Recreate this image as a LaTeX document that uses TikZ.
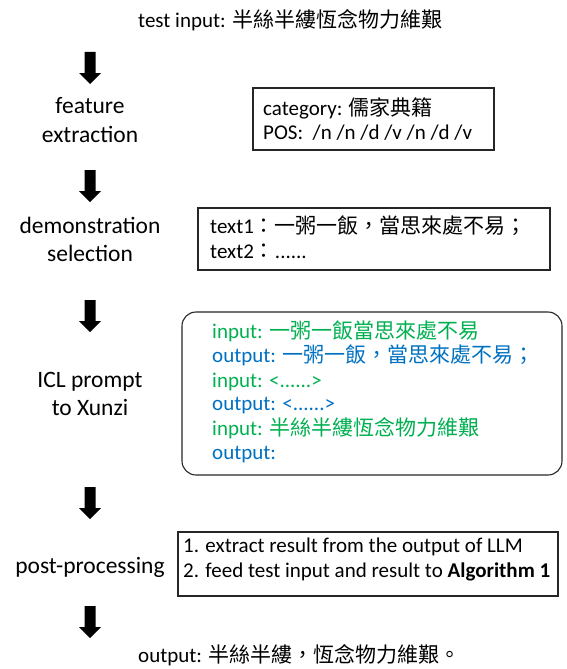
\documentclass[tikz,border=0pt]{standalone}
\usepackage{fontspec}
\setmainfont{Carlito}
\newfontfamily\cjk{Noto Sans CJK TC}
\definecolor{ingreen}{HTML}{00B050}
\definecolor{outblue}{HTML}{0070C0}
\tikzset{
  txt/.style={font=\fontsize{21}{25}\selectfont, inner sep=0pt, anchor=base west},
  lbl/.style={font=\fontsize{23.5}{28}\selectfont, inner sep=0pt, anchor=base},
  frame/.style={draw=black!85, line width=1.1pt, inner sep=0pt},
  fatarrow/.pic={\fill[black] (-5.5,0) -- (5.5,0) -- (5.5,21) -- (11,21) -- (0,32) -- (-11,21) -- (-5.5,21) -- cycle;}
}
\begin{document}
\begin{tikzpicture}[x=1pt,y=-1pt]
\useasboundingbox (0,0) rectangle (567,669);

% top and bottom texts
\node[txt] (tin) at (138,28) {test input: {\cjk 半絲半縷恆念物力維艱}};
\node[txt] (tout) at (138,662) {output: {\cjk 半絲半縷，恆念物力維艱。}};

% arrows
\pic at (90,52) {fatarrow};
\pic at (90,170) {fatarrow};
\pic at (90,300) {fatarrow};
\pic at (90,487) {fatarrow};
\pic at (90,606) {fatarrow};

% left labels
\node[lbl] (fe1) at (90,113) {feature};
\node[lbl] (fe2) at (90,142) {extraction};
\node[lbl] (ds1) at (90,233) {demonstration};
\node[lbl] (ds2) at (90,261) {selection};
\node[lbl] (ic1) at (90,387) {ICL prompt};
\node[lbl] (ic2) at (90,415) {to Xunzi};
\node[lbl] (pp) at (90,573) {post-processing};

% box 1
\node[frame, minimum width=241pt, minimum height=62pt] (b1) at (373.5,119) {};
\node[txt] (b1l1) at (263,115) {category: {\cjk 儒家典籍}};
\node[txt] (b1l2) at (263,139) {POS:\ \ /n /n /d /v /n /d /v};

% box 2
\node[frame, minimum width=352pt, minimum height=62pt] (b2) at (374,239) {};
\node[txt] (b2l1) at (210,233) {text1{\cjk ：一粥一飯，當思來處不易；}};
\node[txt] (b2l2) at (210,258) {text2{\cjk ：}......};

% box 3
\node[frame, rounded corners=14pt, minimum width=380pt, minimum height=163pt] (b3) at (372,393.5) {};
\node[txt, text=ingreen] (b3l1) at (212,338) {input: {\cjk 一粥一飯當思來處不易}};
\node[txt, text=outblue] (b3l2) at (212,362) {output: {\cjk 一粥一飯，當思來處不易；}};
\node[txt, text=ingreen] (b3l3) at (212,387) {input: <......>};
\node[txt, text=outblue] (b3l4) at (212,410) {output: <......>};
\node[txt, text=ingreen] (b3l5) at (212,435) {input: {\cjk 半絲半縷恆念物力維艱}};
\node[txt, text=outblue] (b3l6) at (212,459) {output:};

% box 4
\node[frame, minimum width=380pt, minimum height=64pt] (b4) at (368,564) {};
\node[txt] (b4l1) at (183,552) {1. extract result from the output of LLM};
\node[txt] (b4l2) at (183,577) {2. feed test input and result to \textbf{Algorithm 1}};
\end{tikzpicture}
\end{document}
